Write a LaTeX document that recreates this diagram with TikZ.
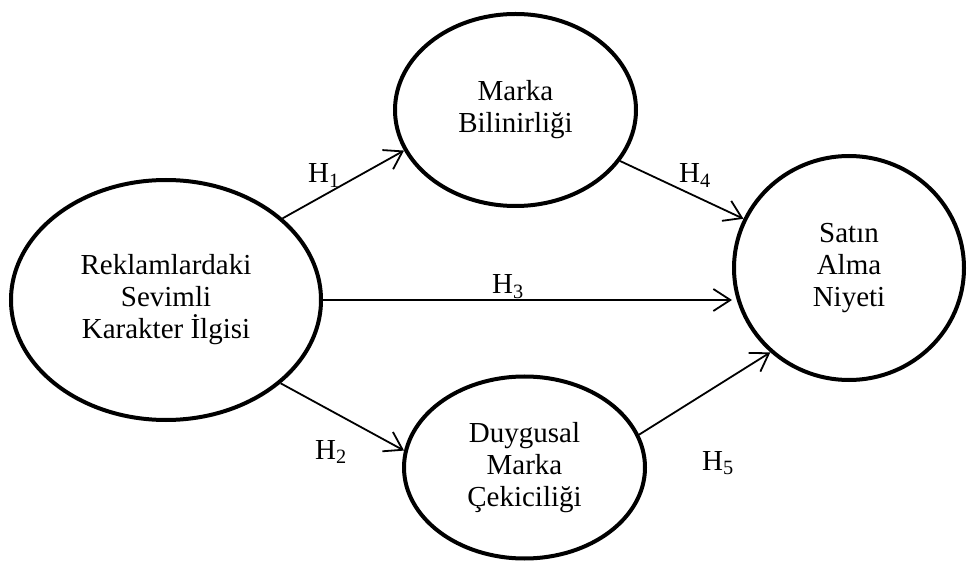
\documentclass[tikz,border=0pt]{standalone}
\usepackage{fontspec}
\setmainfont{Liberation Serif}
\usetikzlibrary{shapes.geometric,arrows.meta}
\begin{document}
\begin{tikzpicture}[x=1pt,y=-1pt,
  construct/.style={draw,ellipse,line width=4pt,inner sep=0pt,align=center,
    font=\fontsize{29}{32}\selectfont},
  link/.style={line width=1.8pt,-{Straight Barb[length=17pt,width=22pt,line width=1.8pt]}},
  hlabel/.style={anchor=base west,inner sep=0pt,font=\fontsize{29}{32}\selectfont}]
\useasboundingbox (0,0) rectangle (967,561);
\node[construct,minimum width=310pt,minimum height=240pt] (L) at (166,300) {Reklamlardaki\\Sevimli\\Karakter İlgisi};
\node[construct,minimum width=241pt,minimum height=192pt] (T) at (515.5,110) {Marka\\Bilinirliği};
\node[construct,minimum width=241pt,minimum height=182pt] (B) at (524.5,467.5) {Duygusal\\Marka\\Çekiciliği};
\node[construct,minimum width=230pt,minimum height=224pt] (R) at (849,268) {Satın\\Alma\\Niyeti};
\draw[link] (L.35) -- (T.200.7);
\draw[link] (T.334.4) -- (R.155);
\draw[link] (L.east) -- (L.east -| R.west);
\draw[link] (L.324.7) -- (B.172.8);
\draw[link] (B.16.6) -- (R.227.1);
\node[hlabel] (h1) at (308,183) {H\textsubscript{1}};
\node[hlabel] (h4) at (679,183) {H\textsubscript{4}};
\node[hlabel] (h3) at (492,294) {H\textsubscript{3}};
\node[hlabel] (h2) at (315,459) {H\textsubscript{2}};
\node[hlabel] (h5) at (702,470) {H\textsubscript{5}};
\end{tikzpicture}
\end{document}
